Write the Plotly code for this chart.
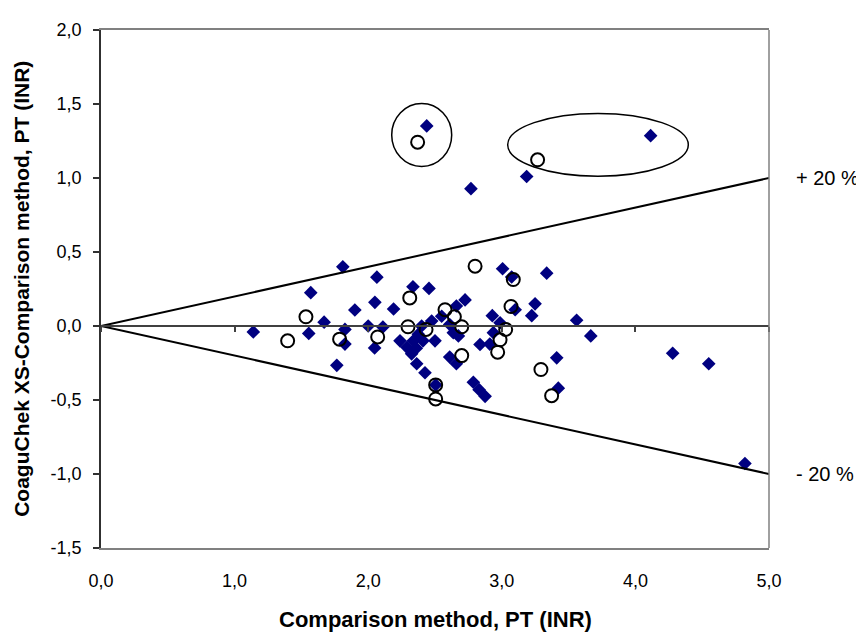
import plotly.graph_objects as go

# ---- data ----
diamond_x = [1.14, 1.57, 1.67, 1.555, 1.81, 2.065, 1.90, 2.05, 2.19, 2.335, 2.455,
             1.826, 1.826, 1.765, 2.00, 2.11, 2.048, 2.238, 2.29, 2.338, 2.325, 2.375,
             2.363, 2.425, 2.40, 2.475, 2.50, 2.505, 2.61, 2.66, 2.725, 2.66, 2.55,
             2.61, 2.637, 2.675, 2.837, 2.787, 2.83, 2.875, 3.006, 3.074, 3.336, 3.10,
             3.249, 3.224, 2.929, 2.987, 3.56, 3.666, 2.937, 2.91, 3.411, 3.423, 4.279,
             4.549, 4.82, 2.438, 4.114, 3.186, 2.769, 2.36, 2.41]
diamond_y = [-0.04, 0.225, 0.026, -0.05, 0.40, 0.33, 0.108, 0.16, 0.115, 0.265, 0.254,
             -0.023, -0.122, -0.266, 0.00, -0.007, -0.148, -0.10, -0.144, -0.10, -0.188, -0.056,
             -0.255, -0.316, 0.00, 0.033, -0.10, -0.398, -0.21, -0.255, 0.176, 0.135, 0.066,
             0.01, -0.045, -0.067, -0.125, -0.38, -0.43, -0.475, 0.387, 0.331, 0.357, 0.11,
             0.15, 0.07, 0.07, 0.022, 0.039, -0.067, -0.045, -0.122, -0.215, -0.42, -0.184,
             -0.255, -0.929, 1.352, 1.286, 1.010, 0.928, -0.15, -0.10]

circle_x = [1.534, 1.397, 1.786, 2.071, 2.311, 2.298, 2.433, 2.505, 2.505, 2.575, 2.645,
            2.70, 2.70, 2.80, 3.086, 3.069, 3.029, 2.987, 2.969, 3.293, 3.373, 2.37, 3.268]
circle_y = [0.062, -0.10, -0.089, -0.074, 0.19, -0.005, -0.023, -0.398, -0.493, 0.11, 0.062,
            -0.005, -0.20, 0.404, 0.314, 0.132, -0.023, -0.093, -0.177, -0.294, -0.471, 1.242, 1.123]

limit_x = [0.0, 5.0]
limit_pct = [0.20, -0.20]
limit_labels = ["+ 20 %", "- 20 %"]

x_ticks = [0.0, 1.0, 2.0, 3.0, 4.0, 5.0]
y_ticks = [-1.5, -1.0, -0.5, 0.0, 0.5, 1.0, 1.5, 2.0]

# highlighted groups (x0, x1, y0, y1)
ellipse_x0 = [2.176, 3.044]
ellipse_x1 = [2.625, 4.396]
ellipse_y0 = [1.078, 1.012]
ellipse_y1 = [1.503, 1.436]

x_title = "Comparison method, PT (INR)"
y_title = "CoaguChek XS-Comparison method, PT (INR)"

FONT = "Liberation Sans, Arial, sans-serif"


def fmt(v):
    return f"{v:.1f}".replace(".", ",")


fig = go.Figure()

# limit lines (on overlay axis x2 that shares the range)
for p in limit_pct:
    fig.add_trace(go.Scatter(x=limit_x, y=[p * v for v in limit_x], mode="lines",
                             line=dict(color="black", width=2), xaxis="x2", yaxis="y",
                             showlegend=False, hoverinfo="skip"))

fig.add_trace(go.Scatter(x=diamond_x, y=diamond_y, mode="markers",
                         marker=dict(symbol="diamond", size=10.5, color="#000080",
                                     line=dict(width=0)),
                         showlegend=False))
fig.add_trace(go.Scatter(x=circle_x, y=circle_y, mode="markers",
                         marker=dict(symbol="circle-open", size=13, color="black",
                                     line=dict(width=2, color="black")),
                         showlegend=False))

shapes = []
for a, b, c, d in zip(ellipse_x0, ellipse_x1, ellipse_y0, ellipse_y1):
    shapes.append(dict(type="circle", xref="x", yref="y", x0=a, x1=b, y0=c, y1=d,
                       line=dict(color="black", width=1.5)))
# right border of plot area
shapes.append(dict(type="line", xref="paper", yref="paper", x0=1, x1=1, y0=0, y1=1,
                   line=dict(color="#808080", width=1.5)))

annotations = []
for p, lab in zip(limit_pct, limit_labels):
    annotations.append(dict(x=limit_x[1], y=p * limit_x[1], xref="x", yref="y",
                            text=lab, showarrow=False, xanchor="left", yanchor="middle",
                            xshift=25, font=dict(family=FONT, size=20, color="black")))
annotations.append(dict(x=0.5, y=-0.138, xref="paper", yref="paper", text="<b>" + x_title + "</b>",
                        showarrow=False, xanchor="center", yanchor="middle",
                        font=dict(family=FONT, size=22, color="black")))
annotations.append(dict(x=-0.12, y=0.5, xref="paper", yref="paper", text="<b>" + y_title + "</b>",
                        showarrow=False, xanchor="center", yanchor="middle", textangle=-90,
                        font=dict(family=FONT, size=21, color="black")))

fig.update_layout(
    width=856, height=624,
    margin=dict(l=93, r=95, t=12, b=84),
    paper_bgcolor="white", plot_bgcolor="white",
    font=dict(family=FONT, size=18, color="black"),
    xaxis=dict(range=[0, 5], tickvals=x_ticks, ticktext=[fmt(v) for v in x_ticks],
               showgrid=False, zeroline=False, showline=True, linecolor="#808080",
               linewidth=1.5, mirror=True, ticks="", ticklabelstandoff=16,
               tickfont=dict(family=FONT, size=18)),
    xaxis2=dict(range=[0, 5], tickvals=x_ticks, overlaying="x", anchor="free",
                position=1.5 / 3.5, showgrid=False, zeroline=False, showline=True,
                linecolor="#404040", linewidth=1.5, ticks="outside", ticklen=5,
                tickcolor="#404040", tickwidth=1.5, showticklabels=False),
    yaxis=dict(range=[-1.5, 2.0], tickvals=y_ticks, ticktext=[fmt(v) for v in y_ticks],
               showgrid=False, zeroline=False, showline=True, linecolor="#303030",
               linewidth=1.5, ticks="outside", ticklen=6, tickcolor="#303030",
               tickwidth=1.5, ticklabelstandoff=8, tickfont=dict(family=FONT, size=18)),
    shapes=shapes, annotations=annotations,
)

fig.write_html("out.html")
